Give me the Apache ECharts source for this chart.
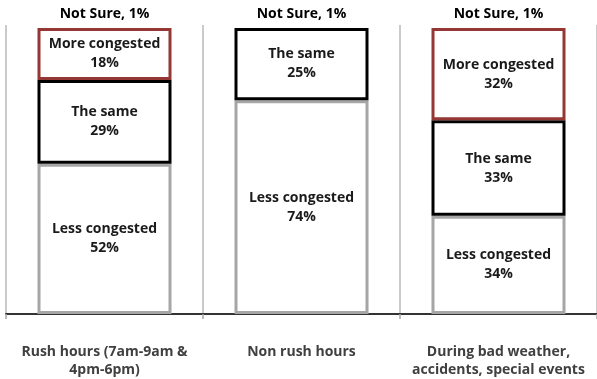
<!DOCTYPE html>
<html>
<head>
<meta charset="utf-8">
<script src="https://cdn.jsdelivr.net/npm/echarts@6/dist/echarts.min.js"></script>
<style>
  html, body { margin: 0; padding: 0; background: #fff; }
  #chart { width: 597px; height: 379px; }
</style>
</head>
<body>
<div id="chart"></div>
<script>
// Perceived congestion, share of respondents (%) by time period
const categories = [
  'Rush hours (7am-9am &\n4pm-6pm)',
  'Non rush hours',
  'During bad weather,\naccidents, special events'
];
const lessCongested = [52, 74, 34];
const theSame = [29, 25, 33];
const moreCongested = [18, 0, 32];
const notSure = [1, 1, 1];

const FONT = '"Open Sans", Lato, sans-serif';
const BAR_W = 134;

function segment(name, values, border) {
  return {
    name: name,
    type: 'bar',
    stack: 'total',
    barWidth: BAR_W,
    data: values.map(v => v === 0
      ? { value: 0, itemStyle: { borderWidth: 0 }, label: { show: false } }
      : v),
    itemStyle: { color: '#ffffff', borderColor: border, borderWidth: 3 },
    label: {
      show: true,
      position: 'inside',
      formatter: p => name + '\n' + p.value + '%',
      color: '#1a1a1a',
      fontFamily: FONT,
      fontWeight: 700,
      fontSize: 14,
      lineHeight: 19
    }
  };
}

const chart = echarts.init(document.getElementById('chart'), null, { renderer: 'canvas' });
chart.setOption({
  animation: false,
  backgroundColor: '#ffffff',
  grid: { left: 6, right: -6, top: 25, bottom: 57 },
  xAxis: {
    type: 'category',
    data: categories,
    axisLine: { show: true, lineStyle: { color: '#333333', width: 2 } },
    axisTick: { show: true, length: 5, lineStyle: { color: '#a6a6a6', width: 1.5 } },
    splitLine: { show: true, lineStyle: { color: '#b8b8b8', width: 1.5 } },
    axisLabel: {
      color: '#404040',
      fontFamily: FONT,
      fontWeight: 700,
      fontSize: 14,
      lineHeight: 18,
      margin: 29,
      interval: 0
    }
  },
  yAxis: { type: 'value', min: 0, max: 100, show: false },
  series: [
    segment('Less congested', lessCongested, '#a6a6a6'),
    segment('The same', theSame, '#000000'),
    segment('More congested', moreCongested, '#953735'),
    {
      name: 'Not Sure',
      type: 'bar',
      stack: 'total',
      barWidth: BAR_W,
      data: notSure,
      itemStyle: { color: 'rgba(0,0,0,0)', borderWidth: 0 },
      label: {
        show: true,
        position: 'top',
        distance: 4,
        formatter: p => 'Not Sure, ' + p.value + '%',
        color: '#000000',
        fontFamily: FONT,
        fontWeight: 700,
        fontSize: 14
      }
    }
  ]
});
</script>
</body>
</html>
